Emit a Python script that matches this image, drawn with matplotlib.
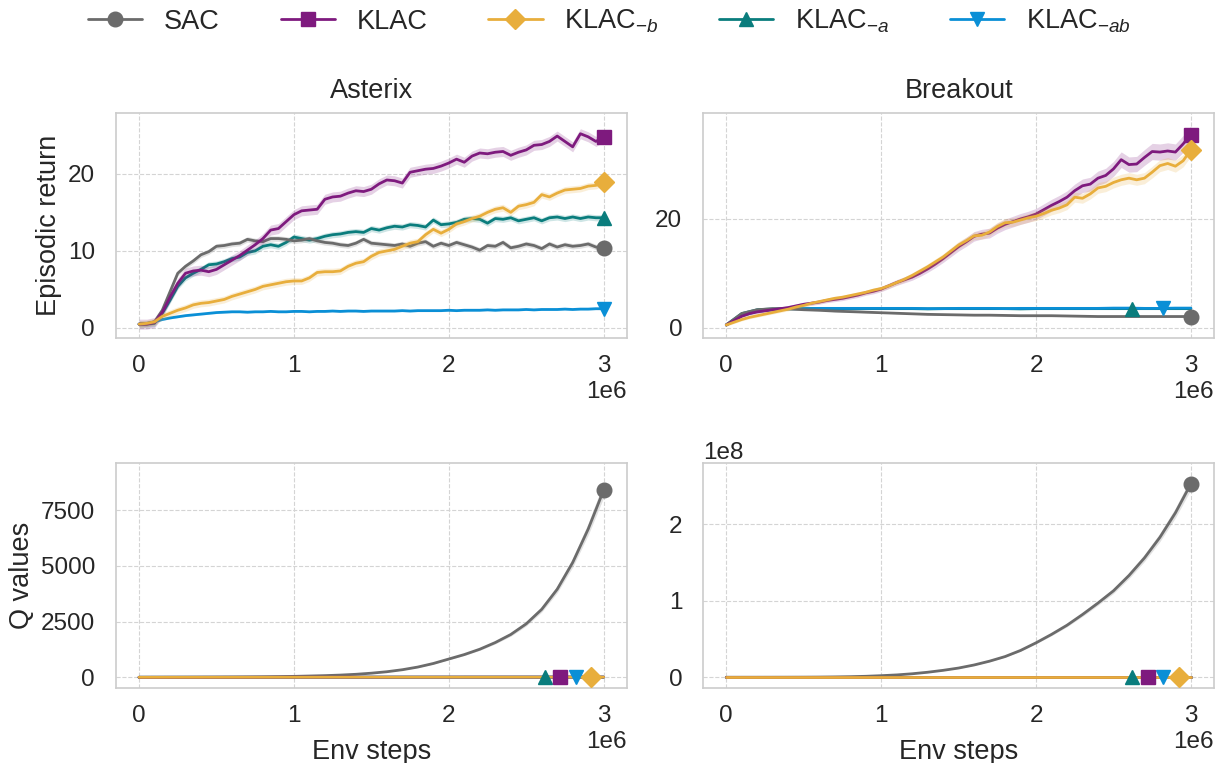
import numpy as np
import matplotlib
matplotlib.use("Agg")
import matplotlib.pyplot as plt
import seaborn as sns
from matplotlib.ticker import MultipleLocator

sns.set_theme(style="whitegrid")
plt.rcParams["font.family"] = ["Liberation Sans", "DejaVu Sans"]
plt.rcParams["mathtext.fontset"] = "custom"
plt.rcParams["mathtext.rm"] = "Liberation Sans"
plt.rcParams["mathtext.it"] = "Liberation Sans:italic"
plt.rcParams["axes.edgecolor"] = "#cccccc"
plt.rcParams["grid.linestyle"] = "--"
plt.rcParams["grid.color"] = "#d4d4d4"
plt.rcParams["grid.linewidth"] = 0.8

# --------------------------------------------------
# DATA (env steps in millions)
# --------------------------------------------------
steps_fine = [i * 0.05 for i in range(61)]
steps_coarse = [i * 0.1 for i in range(31)]
steps_q_flat = [0.0, 0.5, 1.0, 1.5, 2.0, 2.5, 3.0]

labels = ["SAC", "KLAC", "KLAC$_{-b}$", "KLAC$_{-a}$", "KLAC$_{-ab}$"]
colors = ["#6b6b6b", "#7e1a7e", "#e8ae3c", "#0a7d7d", "#0a8fd6"]
markers = ["o", "s", "D", "^", "v"]

# Asterix episodic return
ast_sac = [0.5, 0.55, 0.8, 2.3, 4.7, 7.1, 8.0, 8.7, 9.5, 9.9, 10.6, 10.7, 10.9, 11.0, 11.5,
           11.3, 11.2, 11.6, 11.6, 11.5, 11.3, 11.4, 11.6, 11.3, 11.1, 11.0, 10.8, 10.7, 11.0,
           11.5, 11.0, 10.9, 10.8, 10.7, 10.9, 10.6, 11.0, 11.2, 10.6, 11.0, 10.7, 11.1, 10.8,
           10.5, 10.1, 10.7, 10.6, 11.1, 10.4, 10.6, 10.9, 10.7, 10.3, 10.9, 10.5, 10.8, 10.6,
           10.7, 10.9, 10.5, 10.4]
ast_klac = [0.5, 0.5, 0.7, 2.0, 4.0, 5.8, 7.1, 7.4, 7.5, 7.3, 7.6, 8.2, 8.8, 9.4, 10.1, 10.8,
            11.6, 12.7, 12.9, 13.8, 14.7, 15.2, 15.3, 15.4, 16.7, 17.0, 17.1, 17.5, 17.8, 17.7,
            18.0, 18.7, 19.2, 19.1, 18.8, 20.2, 20.4, 20.6, 20.7, 21.0, 21.4, 21.9, 21.5, 22.3,
            22.7, 22.6, 22.8, 22.9, 22.4, 22.8, 23.1, 23.7, 23.8, 24.2, 24.9, 24.2, 23.5, 25.2,
            24.8, 24.2, 24.8]
ast_klac_b = [0.5, 0.6, 0.8, 1.5, 1.9, 2.3, 2.6, 3.0, 3.2, 3.3, 3.5, 3.7, 4.1, 4.4, 4.7, 5.0,
              5.4, 5.6, 5.8, 6.0, 6.1, 6.1, 6.5, 7.2, 7.3, 7.3, 7.4, 8.0, 8.4, 8.6, 9.3, 9.8,
              10.0, 10.2, 10.6, 11.0, 11.2, 12.1, 12.8, 12.3, 12.8, 13.5, 13.8, 14.2, 14.5,
              15.0, 15.4, 15.6, 15.0, 15.8, 16.0, 16.3, 17.3, 17.0, 17.5, 17.9, 18.0, 18.1,
              18.4, 18.5, 18.9]
ast_klac_a = [0.5, 0.5, 0.6, 1.9, 3.6, 5.4, 6.5, 7.1, 7.6, 8.2, 8.3, 8.6, 9.0, 9.2, 9.8, 10.0,
              10.6, 10.8, 10.6, 11.1, 11.8, 11.6, 11.4, 11.6, 11.9, 12.1, 12.2, 12.4, 12.5,
              12.4, 12.9, 12.7, 13.0, 13.2, 13.1, 13.4, 13.3, 13.1, 14.0, 13.4, 13.5, 13.7,
              14.1, 14.2, 14.1, 13.6, 14.2, 14.1, 14.3, 13.9, 14.1, 14.3, 13.9, 14.3, 14.4,
              14.2, 14.4, 14.2, 14.4, 14.3, 14.3]
ast_klac_ab = [0.5, 0.6, 0.8, 1.1, 1.3, 1.45, 1.6, 1.7, 1.8, 1.9, 2.0, 2.05, 2.1, 2.1, 2.05,
               2.1, 2.1, 2.15, 2.1, 2.1, 2.15, 2.15, 2.1, 2.15, 2.15, 2.2, 2.15, 2.2, 2.2, 2.15,
               2.2, 2.2, 2.2, 2.2, 2.25, 2.2, 2.25, 2.25, 2.25, 2.25, 2.3, 2.25, 2.3, 2.3, 2.3,
               2.35, 2.3, 2.35, 2.35, 2.35, 2.4, 2.35, 2.4, 2.4, 2.4, 2.45, 2.4, 2.45, 2.45,
               2.5, 2.5]

# Breakout episodic return
brk_sac = [0.5, 2.6, 3.3, 3.5, 3.45, 3.3, 3.2, 3.05, 2.95, 2.85, 2.75, 2.65, 2.55, 2.45, 2.4,
           2.35, 2.3, 2.3, 2.25, 2.2, 2.2, 2.2, 2.15, 2.1, 2.05, 2.05, 2.05, 2.05, 2.05, 2.05,
           2.05]
brk_klac = [0.5, 1.3, 2.1, 2.6, 2.9, 3.1, 3.3, 3.5, 3.7, 4.0, 4.3, 4.5, 4.7, 5.0, 5.2, 5.4,
            5.7, 6.0, 6.4, 6.7, 7.1, 7.7, 8.3, 8.8, 9.3, 10.0, 10.8, 11.7, 12.7, 13.8, 14.9,
            15.8, 16.8, 17.2, 17.4, 18.3, 19.0, 19.5, 20.0, 20.4, 20.9, 21.7, 22.5, 23.2, 24.0,
            25.2, 26.1, 26.4, 27.5, 28.0, 29.2, 30.9, 30.0, 30.1, 31.3, 32.4, 32.3, 32.5, 32.3,
            33.8, 35.5]
brk_klac_b = [0.5, 1.0, 1.5, 1.9, 2.2, 2.5, 2.8, 3.1, 3.4, 3.8, 4.1, 4.5, 4.8, 5.1, 5.4, 5.6,
              5.9, 6.2, 6.5, 6.9, 7.2, 7.7, 8.3, 8.9, 9.6, 10.4, 11.2, 12.1, 13.0, 14.1, 15.2,
              16.0, 16.9, 17.0, 17.6, 18.6, 19.3, 19.4, 19.8, 20.2, 20.5, 21.0, 21.6, 22.0,
              22.6, 24.0, 23.8, 24.6, 25.7, 26.0, 26.7, 27.2, 27.5, 27.2, 27.5, 28.6, 29.8,
              30.2, 29.7, 30.7, 32.7]
brk_klac_a = [0.5, 2.6, 3.3, 3.45, 3.5, 3.5, 3.5, 3.5, 3.45, 3.5, 3.5, 3.5, 3.5, 3.45, 3.5,
              3.5, 3.5, 3.5, 3.5, 3.45, 3.5, 3.5, 3.5, 3.5, 3.5, 3.5, 3.5, 3.5, 3.5, 3.5, 3.5]
brk_klac_ab = [0.5, 2.2, 3.0, 3.3, 3.45, 3.5, 3.55, 3.55, 3.55, 3.55, 3.55, 3.55, 3.55, 3.5,
               3.5, 3.55, 3.55, 3.55, 3.5, 3.55, 3.55, 3.55, 3.55, 3.55, 3.55, 3.6, 3.6, 3.55,
               3.55, 3.6, 3.6]

# Q values
ast_q_sac = [0, 1, 2, 3, 5, 7, 10, 14, 20, 30, 42, 58, 75, 100, 135, 185, 250, 340, 460, 620,
             820, 1020, 1260, 1560, 1920, 2400, 3050, 3950, 5150, 6650, 8400]
ast_q_klac = [0, 2, 4, 6, 8, 9, 10]
ast_q_klac_b = [0, 2, 3, 5, 6, 7, 8]
ast_q_klac_a = [0, 1, 3, 4, 5, 6, 7]
ast_q_klac_ab = [0, 1, 2, 3, 4, 5, 6]
brk_q_sac_1e8 = [0, 0, 0.0001, 0.0003, 0.0006, 0.001, 0.002, 0.004, 0.007, 0.012, 0.02, 0.03,
                 0.045, 0.065, 0.09, 0.12, 0.16, 0.21, 0.27, 0.35, 0.45, 0.56, 0.68, 0.82, 0.97,
                 1.13, 1.33, 1.56, 1.83, 2.15, 2.53]
brk_q_klac = [0, 3, 6, 8, 10, 12, 13]
brk_q_klac_b = [0, 2, 5, 7, 9, 10, 11]
brk_q_klac_a = [0, 2, 4, 6, 8, 9, 10]
brk_q_klac_ab = [0, 2, 4, 5, 7, 8, 9]

panels = [
    # (row, col, title, [(x, y, y_scale), ...])
    (0, 0, "Asterix", [(steps_fine, ast_sac, 1), (steps_fine, ast_klac, 1), (steps_fine, ast_klac_b, 1),
                       (steps_fine, ast_klac_a, 1), (steps_fine, ast_klac_ab, 1)]),
    (0, 1, "Breakout", [(steps_coarse, brk_sac, 1), (steps_fine, brk_klac, 1), (steps_fine, brk_klac_b, 1),
                        (steps_coarse, brk_klac_a, 1), (steps_coarse, brk_klac_ab, 1)]),
    (1, 0, None, [(steps_coarse, ast_q_sac, 1), (steps_q_flat, ast_q_klac, 1), (steps_q_flat, ast_q_klac_b, 1),
                  (steps_q_flat, ast_q_klac_a, 1), (steps_q_flat, ast_q_klac_ab, 1)]),
    (1, 1, None, [(steps_coarse, brk_q_sac_1e8, 1e8), (steps_q_flat, brk_q_klac, 1), (steps_q_flat, brk_q_klac_b, 1),
                  (steps_q_flat, brk_q_klac_a, 1), (steps_q_flat, brk_q_klac_ab, 1)]),
]

# band half widths: (absolute, relative)
bands = {
    (0, 0): [(0.35, 0), (0.65, 0), (0.45, 0), (0.4, 0), (0.12, 0)],
    (0, 1): [(0.1, 0), (0.2, 0.04), (0.2, 0.03), (0.1, 0), (0.1, 0)],
    (1, 0): [(0, 0.04), (0, 0), (0, 0), (0, 0), (0, 0)],
    (1, 1): [(0, 0.03), (0, 0), (0, 0), (0, 0), (0, 0)],
}
# marker x positions (millions), shifted where markers would overlap
marker_x = {
    (0, 0): [3.0, 3.0, 3.0, 3.0, 3.0],
    (0, 1): [3.0, 3.0, 3.0, 2.62, 2.82],
    (1, 0): [3.0, 2.72, 2.92, 2.62, 2.82],
    (1, 1): [3.0, 2.72, 2.92, 2.62, 2.82],
}
zorders = [4, 5, 6, 2, 3]
marker_sizes = [10.5, 10, 10, 10.5, 10.5]

TICK_FS = 17.5
LABEL_FS = 19.5

fig, axes = plt.subplots(2, 2, figsize=(12.19, 7.63), dpi=100)
fig.subplots_adjust(left=0.095, right=0.996, top=0.852, bottom=0.098, wspace=0.149, hspace=0.556)

for row, col, title, series in panels:
    ax = axes[row, col]
    for i, (xs, ys, scale) in enumerate(series):
        x = np.array(xs) * 1e6
        y = np.array(ys) * scale
        a, r = bands[(row, col)][i]
        half = a * scale + r * np.abs(y)
        ax.fill_between(x, y - half, y + half, color=colors[i], alpha=0.2, lw=0, zorder=zorders[i])
        ax.plot(x, y, color=colors[i], lw=2.0, zorder=zorders[i], label=labels[i])
        mx = marker_x[(row, col)][i] * 1e6
        my = np.interp(mx, x, y)
        ax.plot([mx], [my], marker=markers[i], color=colors[i], ms=marker_sizes[i],
                ls="none", zorder=zorders[i] + 5)

    ax.xaxis.set_major_locator(MultipleLocator(1e6))
    ax.tick_params(labelsize=TICK_FS, colors="#262626")
    ax.tick_params(axis="y", pad=9)
    ax.tick_params(axis="x", pad=6)
    ax.xaxis.get_offset_text().set_fontsize(TICK_FS)
    ax.yaxis.get_offset_text().set_fontsize(TICK_FS)
    if title:
        ax.set_title(title, fontsize=LABEL_FS, pad=11, color="#262626")
    if row == 1:
        ax.set_xlabel("Env steps", fontsize=LABEL_FS, color="#262626", labelpad=9)
    for s in ax.spines.values():
        s.set_color("#cccccc")
        s.set_linewidth(1.2)

axes[0, 0].yaxis.set_major_locator(MultipleLocator(10))
axes[0, 1].yaxis.set_major_locator(MultipleLocator(20))
axes[1, 0].yaxis.set_major_locator(MultipleLocator(2500))
axes[1, 1].yaxis.set_major_locator(MultipleLocator(1e8))
axes[1, 0].set_ylim(-490, 9610)
axes[1, 1].set_ylim(-0.144e8, 2.8e8)
axes[0, 1].set_ylim(-1.9, 39.5)
axes[0, 0].set_ylim(-1.3, 27.9)

axes[0, 0].set_ylabel("Episodic return", fontsize=LABEL_FS, color="#262626")
axes[1, 0].set_ylabel("Q values", fontsize=LABEL_FS, color="#262626")

# legend
handles = []
for i in range(5):
    h, = axes[0, 0].plot([], [], color=colors[i], marker=markers[i], lw=2.0,
                         ms=marker_sizes[i], label=labels[i])
    handles.append(h)
fig.legend(handles=handles, labels=labels, loc="upper center", bbox_to_anchor=(0.5, 1.022),
           ncol=5, frameon=False, fontsize=LABEL_FS, handlelength=2.0, columnspacing=2.25)

plt.savefig("out.png", dpi=100)
plt.close(fig)
